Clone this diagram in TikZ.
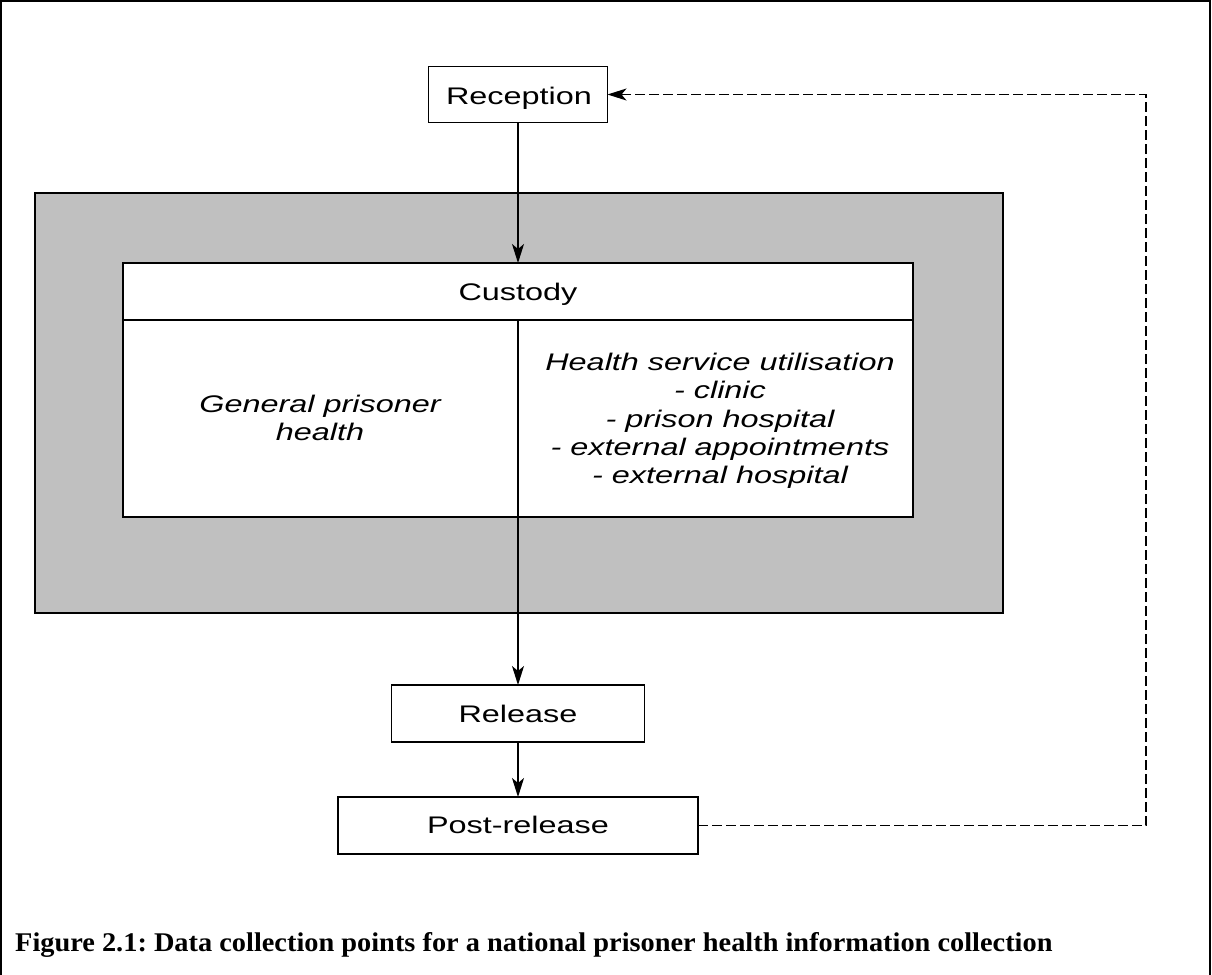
\documentclass[tikz,border=0pt]{standalone}
\usepackage{fontspec}
\setmainfont{Liberation Serif}
\newfontfamily\diagfont{Liberation Sans}[FakeStretch=1.35]
\newfontfamily\capfont{Liberation Serif}[FakeStretch=1.05]
\usetikzlibrary{arrows.meta}
\definecolor{shade}{HTML}{C0C0C0}
\begin{document}
\frenchspacing
\begin{tikzpicture}[x=1pt,y=-1pt,
  box/.style={draw, line width=1.8pt, fill=white, inner sep=0pt, outer sep=0pt},
  lbl/.style={font=\diagfont\fontsize{24}{28.3}\selectfont, align=center, inner sep=0pt, anchor=base},
  ilbl/.style={font=\diagfont\itshape\fontsize{24}{28.3}\selectfont, align=center, inner sep=0pt},
  tip/.style={-{Stealth[length=19pt,width=12pt,inset=5pt]}},
  flow/.style={line width=1.4pt, tip},
  back/.style={line width=1.4pt, dash pattern=on 10pt off 4pt, tip}]
\useasboundingbox (0,0) rectangle (1212,974);
\node[draw, line width=2pt, minimum width=1209pt, minimum height=990pt, anchor=north west, inner sep=0pt, outer sep=0pt] (frame) at (1,1) {};
\node[box, line width=1.5pt, fill=shade, minimum width=968pt, minimum height=420pt, anchor=north west] (hold) at (35,193) {};
\node[box, minimum width=179pt, minimum height=56pt] (rec) at (518,94.5) {};
\node[lbl] (reclbl) at (519,104) {Reception};
\node[box, minimum width=790pt, minimum height=254pt, anchor=north west] (cust) at (123,263) {};
\coordinate (hl) at (123,320);
\coordinate (hr) at (913,320);
\coordinate (vt) at (518,320);
\draw[line width=1.8pt] (hl) -- (hr);
\draw[line width=1.4pt] (vt) -- (cust.south);
\node[lbl] (custlbl) at (518,300) {Custody};
\node[ilbl] (gen) at (320,418) {General prisoner\\health};
\node[ilbl] (hsu) at (720,421) {Health service utilisation\\- clinic\\- prison hospital\\- external appointments\\- external hospital};
\node[box, minimum width=253pt, minimum height=57pt] (rel) at (518,713.5) {};
\node[lbl] (rellbl) at (518,722) {Release};
\node[box, minimum width=360pt, minimum height=57pt] (post) at (518,825.5) {};
\node[lbl] (postlbl) at (518,833) {Post-release};
\draw[flow] (rec.south) -- (cust.north);
\draw[flow] (cust.south) -- (rel.north);
\draw[flow] (rel.south) -- (post.north);
\coordinate (corner) at (1146,825.5);
\draw[back] (post.east) -- (corner) |- (rec.east);
\node[anchor=base west, inner sep=0pt, font=\capfont\bfseries\fontsize{27}{30}\selectfont] (cap) at (15,951) {Figure 2.1: Data collection points for a national prisoner health information collection};
\end{tikzpicture}
\end{document}
